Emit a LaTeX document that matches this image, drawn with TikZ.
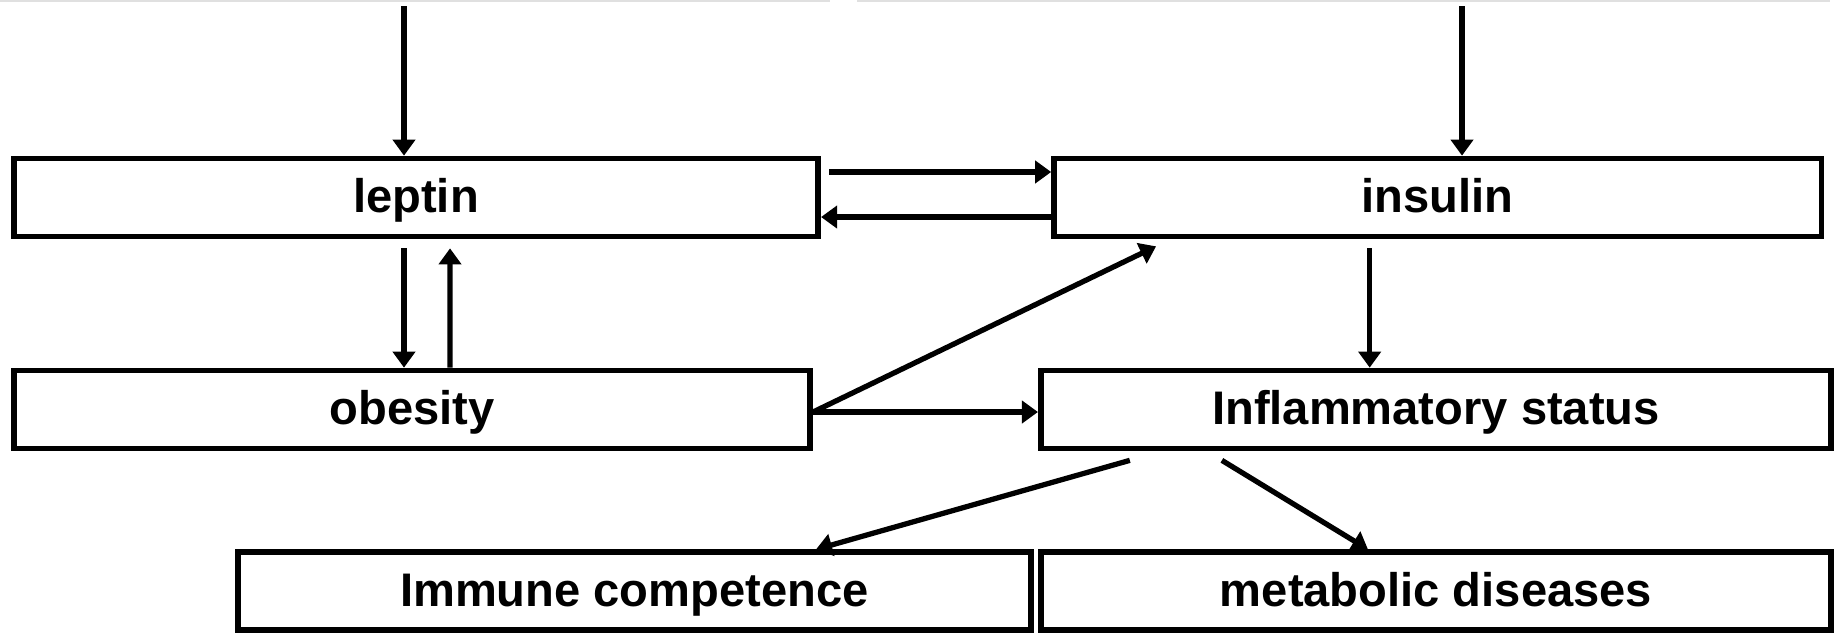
\documentclass[tikz,border=0pt]{standalone}
\usepackage{fontspec}
\setmainfont{Liberation Sans}
\usetikzlibrary{arrows.meta, positioning, calc}
\tikzset{
    factor/.style={rectangle, draw=black, line width=1.6pt, fill=white, minimum height=0.78cm, inner sep=0pt, text height=0.95em, text depth=0.1em, font=\fontsize{13.4}{16}\selectfont\bfseries},
    arrow/.style={-{Triangle[length=0.16cm, width=0.22cm]}, line width=1.5pt},
    cut/.style={draw=black!12, line width=0.6pt}
}

\begin{document}
\begin{tikzpicture}[x=0.01cm, y=0.01cm]
    \useasboundingbox (0,0) rectangle (1837,-633);

    % --- cut-off edge at the top ---
    \draw [cut] (0,-1) -- (830,-1);
    \draw [cut] (857,-1) -- (1830,-1);
    \coordinate (srcL) at (404,-6);
    \coordinate (srcR) at (1462,-6);

    % --- Hormones ---
    \node (leptin) [factor, minimum width=8.04cm] at (416,-197.5) {leptin};
    \node (insulin) [factor, right=2.3cm of leptin, minimum width=7.67cm] {insulin};

    % --- Middle row ---
    \node (obesity) [factor, minimum width=7.96cm] at (412,-409.5) {obesity};
    \node (inflam) [factor, minimum width=7.9cm] at (1436,-409.5) {Inflammatory status};

    % --- Outcomes ---
    \node (metab) [factor, below=0.98cm of inflam, minimum width=7.9cm] {metabolic diseases};
    \node (immune) [factor, left=0.04cm of metab, minimum width=7.93cm] {Immune competence};

    \coordinate (lv) at ([xshift=-0.12cm]leptin.south);
    \coordinate (iv) at ([xshift=-0.68cm]insulin.south);

    \draw [arrow] (srcL) -- (srcL |- leptin.north);
    \draw [arrow] (srcR) -- (srcR |- insulin.north);

    \draw [arrow] ([xshift=0.08cm, yshift=0.255cm]leptin.east) -- ([yshift=0.255cm]insulin.west);
    \draw [arrow] ([yshift=-0.195cm]insulin.west) -- ([yshift=-0.195cm]leptin.east);

    \draw [arrow] ([yshift=-0.09cm]lv) -- (lv |- obesity.north);
    \draw [arrow] ([xshift=0.38cm]obesity.north) -- ([xshift=0.34cm, yshift=-0.09cm]leptin.south);

    \draw [arrow] ([yshift=-0.025cm]obesity.east) -- ([xshift=-2.815cm, yshift=-0.07cm]insulin.south);
    \draw [arrow] ([yshift=-0.025cm]obesity.east) -- ([yshift=-0.025cm]inflam.west);
    \draw [arrow] ([yshift=-0.09cm]iv) -- (iv |- inflam.north);

    \draw [arrow] ([xshift=-3.06cm, yshift=-0.09cm]inflam.south) -- ([xshift=1.815cm]immune.north);
    \draw [arrow] ([xshift=-2.14cm, yshift=-0.09cm]inflam.south) -- ([xshift=-0.68cm]metab.north);
\end{tikzpicture}
\end{document}
